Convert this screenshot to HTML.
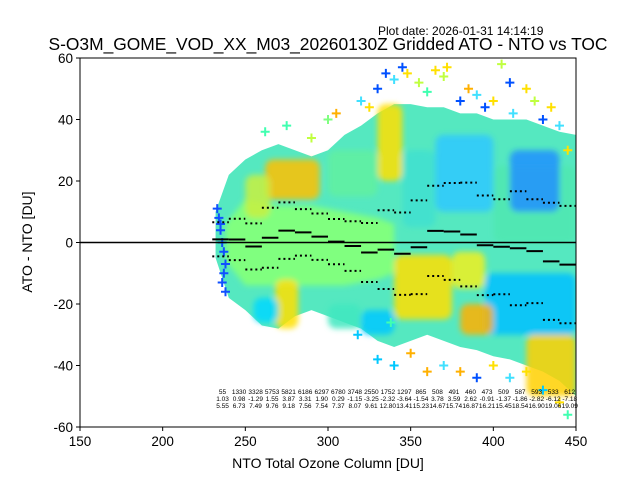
<!DOCTYPE html>
<html><head><meta charset="utf-8">
<style>
body{margin:0;background:#fff;}
svg{display:block;font-family:"Liberation Sans","DejaVu Sans",sans-serif;}
</style></head>
<body>
<svg id="chart" width="640" height="480" viewBox="0 0 640 480">
<defs><clipPath id="clip"><rect x="80" y="58" width="496" height="369"/></clipPath>
<filter id="soft" x="-20%" y="-20%" width="140%" height="140%"><feGaussianBlur stdDeviation="3"/></filter></defs>
<text x="378" y="35" font-size="12" fill="#000">Plot date: 2026-01-31 14:14:19</text>
<text x="328" y="50" font-size="17.4" text-anchor="middle" fill="#000">S-O3M_GOME_VOD_XX_M03_20260130Z Gridded ATO - NTO vs TOC</text>
<g clip-path="url(#clip)"><g id="cloud"></g><g id="softg" filter="url(#soft)"></g><g id="pts"></g></g>
<g id="stats"></g>
<rect x="80" y="58" width="496" height="369" fill="none" stroke="#000" stroke-width="1"/>
<g id="axes"></g>
<text x="328" y="468" font-size="14" text-anchor="middle">NTO Total Ozone Column [DU]</text>
<text x="32" y="242" font-size="14" text-anchor="middle" transform="rotate(-90 32 242)">ATO - NTO [DU]</text>
</svg>
<script>
const binStarts=[230,240,250,260,270,280,290,300,310,320,330,340,350,360,370,380,390,400,410,420,430,440];
const counts=[55,1330,3328,5753,5821,6186,6297,6780,3748,2550,1752,1297,865,508,491,460,473,509,587,593,533,612];
const means=[1.03,0.98,-1.29,1.55,3.87,3.31,1.90,0.29,-1.15,-3.25,-2.32,-3.64,-1.54,3.78,3.59,2.62,-0.91,-1.37,-1.86,-2.82,-6.12,-7.18];
const stds=[5.55,6.73,7.49,9.76,9.18,7.56,7.54,7.37,8.07,9.61,12.80,13.41,15.23,14.67,15.74,16.87,16.21,15.45,18.54,16.90,19.06,19.09];
const xTicks=[150,200,250,300,350,400,450];
const yTicks=[-60,-40,-20,0,20,40,60];
const envX=[232,240,250,260,270,280,290,300,310,320,330,340,350,360,370,380,390,400,410,420,430,440,450];
const envUpper=[10,22,27,30,32,30,28,30,35,38,42,45,45,44,44,42,42,40,40,40,38,36,35];
const envLower=[-5,-18,-22,-27,-28,-24,-22,-24,-26,-28,-32,-34,-32,-30,-32,-34,-35,-37,-38,-40,-42,-45,-50];
const coreX=[238,250,270,290,310,330,340];
const coreUpper=[6,14,12,12,10,8,6];
const coreLower=[-6,-14,-14,-14,-14,-12,-10];
// patches: x0,x1,y0,y1,color
const patches=[
[262,295,14,27,"#ffc000"],[250,265,8,22,"#c8f040"],[300,330,15,30,"#60f0a0"],
[268,282,-28,-12,"#ffe000"],[255,270,-26,-18,"#00d8ff"],[300,320,-28,-20,"#40e8c0"],
[320,340,-30,-22,"#00c8ff"],[340,375,-25,-4,"#ffe000"],[345,365,5,30,"#40e0d0"],
[365,400,10,35,"#30c8ff"],[375,395,-15,-3,"#f0f020"],[395,450,-30,-10,"#00c0ff"],
[400,450,0,25,"#50e8b0"],[420,450,-50,-30,"#ffd000"],[330,345,20,45,"#ffe000"],
[380,400,-30,-20,"#ffb000"],[410,440,10,30,"#2090ff"],[300,340,-5,5,"#80ff7f"]];
const outX=[262,275,290,300,305,320,325,330,335,340,345,348,355,360,365,370,372,380,385,390,395,400,405,410,412,420,425,430,435,440,445,330,340,350,360,370,380,390,400,410,420,430,440,445,318,338];
const outY=[36,38,34,40,42,46,44,50,55,53,57,55,52,49,56,54,57,46,50,48,44,46,58,52,42,50,46,40,44,38,30,-38,-40,-36,-42,-40,-42,-44,-40,-44,-42,-48,-52,-56,-30,-26];
const outC=["#40ffb0","#40ffb0","#c0ff40","#80ff80","#ffb000","#40e0ff","#ffe000","#0050ff","#0050ff","#40e0ff","#0050ff","#ffe000","#c0ff40","#40ffb0","#ffe000","#c0ff40","#ffe000","#0050ff","#ffb000","#40e0ff","#0050ff","#ffe000","#c0ff40","#0050ff","#40e0ff","#ffe000","#c0ff40","#0050ff","#ffe000","#40e0ff","#ffe000","#00c8ff","#00c8ff","#ffb000","#ffb000","#40e0ff","#ffb000","#0050ff","#ffe000","#40e0ff","#ffe000","#00c8ff","#ffe000","#40ffb0","#00c8ff","#40ffb0"];
const blueX=[233,234,235,236,237,238,237,236,235,238];
const blueY=[11,8,4,0,-3,-7,-10,-13,6,-16];

const NS="http://www.w3.org/2000/svg";
const X=v=>80+(v-150)*496/300;
const Y=v=>58+(60-v)*369/120;
function mk(tag,attrs,parent){const e=document.createElementNS(NS,tag);for(const k in attrs)e.setAttribute(k,attrs[k]);parent.appendChild(e);return e;}
const cloud=document.getElementById('cloud');
const softg=document.getElementById('softg');
const ptsG=document.getElementById('pts');
const stats=document.getElementById('stats');
const axes=document.getElementById('axes');

let pts=envX.map((v,i)=>X(v)+","+Y(envUpper[i])).concat(envX.slice().reverse().map((v,i)=>X(v)+","+Y(envLower[envX.length-1-i])));
const env=mk('polygon',{points:pts.join(" "),fill:"#55e8c0"},cloud);


pts=coreX.map((v,i)=>X(v)+","+Y(coreUpper[i])).concat(coreX.slice().reverse().map((v,i)=>X(v)+","+Y(coreLower[coreX.length-1-i])));
const core=mk('polygon',{points:pts.join(" "),fill:"#80ff7f"},softg);


patches.forEach(p=>{
  const r=mk('rect',{x:X(p[0]),y:Y(p[3]),width:X(p[1])-X(p[0]),height:Y(p[2])-Y(p[3]),fill:p[4],opacity:0.85,rx:8},softg);
  
  
});
function plus(x,y,c){return mk('path',{d:`M${x-4.5},${y}h9M${x},${y-4.5}v9`,stroke:c,"stroke-width":2,fill:"none"},ptsG);}
outX.forEach((v,i)=>{
  const p=plus(X(v),Y(outY[i]),outC[i]);
  
  
});
blueX.forEach((v,i)=>{
  const p=plus(X(v),Y(blueY[i]),"#1050ff");
  
  
});

const z=mk('line',{x1:80,x2:576,y1:Y(0),y2:Y(0),stroke:"#000","stroke-width":1.5},stats);



binStarts.forEach((b,i)=>{
  const x0=X(b),x1=X(b+10),xc=X(b+5);
  const m=mk('line',{x1:x0,x2:x1,y1:Y(means[i]),y2:Y(means[i]),stroke:"#000","stroke-width":2},stats);
  
  
  [means[i]+stds[i],means[i]-stds[i]].forEach(v=>{
    const d=mk('line',{x1:x0,x2:x1,y1:Y(v),y2:Y(v),stroke:"#000","stroke-width":2,"stroke-dasharray":"2,3"},stats);
    
    
  });
  [String(counts[i]),means[i].toFixed(2),stds[i].toFixed(2)].forEach((t,j)=>{
    const tx=mk('text',{x:xc+2,y:394+j*7,"font-size":6.5,"text-anchor":"middle",fill:"#000"},stats);
    tx.textContent=t;
    
    
  });
});

xTicks.forEach(v=>{
  const l=mk('line',{x1:X(v),x2:X(v),y1:427,y2:431,stroke:"#000"},axes);
  
  
  const t=mk('text',{x:X(v),y:446,"font-size":13.5,"text-anchor":"middle"},axes);
  t.textContent=v;
  
  
});
yTicks.forEach(v=>{
  const l=mk('line',{x1:76,x2:80,y1:Y(v),y2:Y(v),stroke:"#000"},axes);
  
  
  const t=mk('text',{x:73,y:Y(v)+5,"font-size":13.5,"text-anchor":"end"},axes);
  t.textContent=v;
  
  
});
</script>
</body></html>
